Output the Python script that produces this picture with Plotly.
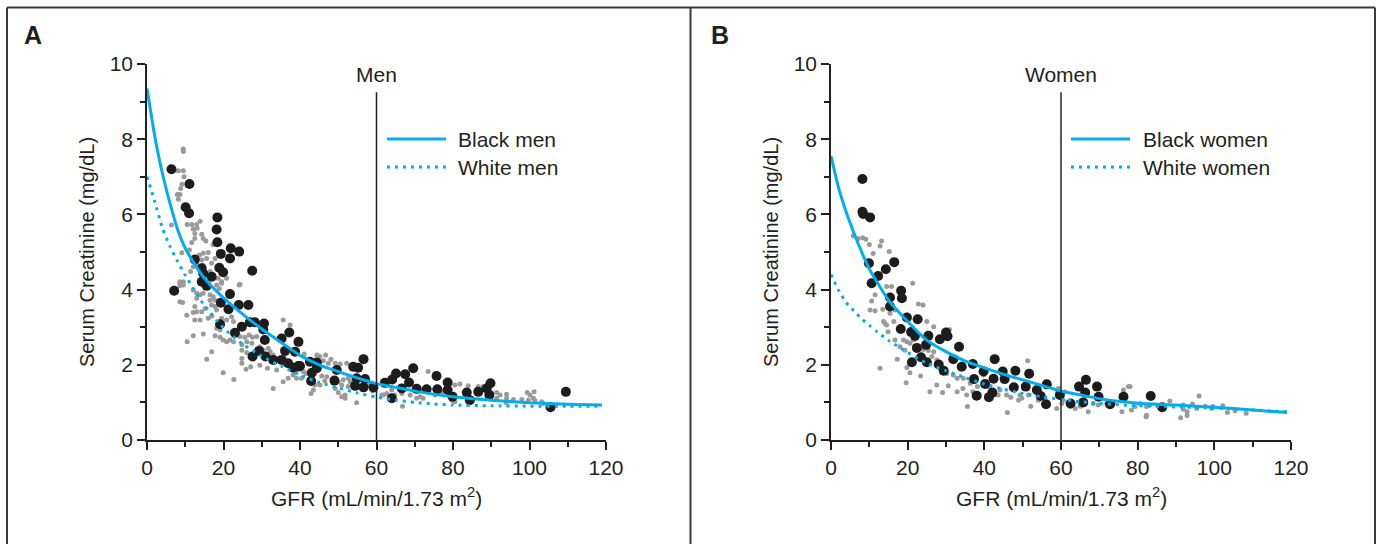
import plotly.graph_objects as go

W, H = 1379, 544

# ---------------- data ----------------
curve_x = [0, 2, 4, 6, 8, 10, 12, 15, 20, 25, 30, 35, 40, 45, 50, 55, 60, 65, 70, 75, 80, 90, 100, 110, 119]
men_black_curve = [9.35, 8.1, 7.1, 6.3, 5.6, 5.1, 4.75, 4.3, 3.78, 3.35, 2.95, 2.6, 2.25, 2.0, 1.82, 1.65, 1.5,
                   1.4, 1.3, 1.22, 1.15, 1.06, 0.99, 0.95, 0.93]
men_white_curve = [7.0, 6.35, 5.65, 5.15, 4.75, 4.38, 4.05, 3.58, 2.98, 2.55, 2.23, 1.97, 1.73, 1.53, 1.39, 1.25,
                   1.14, 1.06, 1.0, 0.96, 0.93, 0.91, 0.9, 0.9, 0.9]
women_black_curve = [7.55, 6.7, 6.05, 5.5, 5.0, 4.55, 4.2, 3.72, 3.15, 2.65, 2.35, 2.1, 1.92, 1.75, 1.6, 1.45, 1.3,
                     1.2, 1.1, 1.03, 0.98, 0.93, 0.87, 0.8, 0.73]
women_white_curve = [4.4, 3.98, 3.65, 3.43, 3.22, 3.05, 2.88, 2.65, 2.33, 2.04, 1.84, 1.66, 1.49, 1.35, 1.24, 1.15,
                     1.08, 1.02, 0.97, 0.94, 0.91, 0.88, 0.85, 0.8, 0.75]

men_gray_x = [9.5, 9.5, 8.2, 9.5, 9.7, 9.1, 8.8, 7.9, 8.6, 8.2, 6.4, 10.5, 11.7, 13.0, 13.9, 12.1, 13.1, 12.5, 14.3,
              14.7, 15.4, 12.5, 11.7, 17.3, 16.0, 14.7, 13.7, 11.1, 9.1, 14.3, 15.6, 14.6, 13.0, 11.4, 12.1, 16.9,
              17.8, 16.5, 17.3, 18.6, 19.5, 8.6, 9.5, 24.3, 20.8,
              8.6, 9.5, 8.6, 12.1, 13.0, 13.9, 14.7, 16.5, 17.3, 16.5, 17.8, 16.9, 18.2, 19.5, 18.9, 24.1, 9.3, 13.0,
              12.5, 13.0, 12.1, 10.4, 14.3, 15.2, 17.8, 18.2, 12.5, 13.9, 16.0, 16.9, 19.5, 20.8, 22.1, 22.6, 18.2,
              19.1, 12.1, 14.7, 17.8, 19.1, 19.9, 10.5, 20.8, 21.7, 22.6, 24.3, 25.6, 26.7, 27.6, 28.7, 24.8, 26.1,
              27.4, 16.9, 24.8, 26.1, 15.6, 24.8, 24.8, 29.5, 30.4, 31.7, 32.2, 33.0, 29.5, 27.1, 25.9, 31.5, 33.9,
              35.6, 37.4, 19.9, 22.7, 35.6, 36.9, 38.2, 39.1, 33.0, 36.1, 37.8,
              41.1, 44.4, 45.2, 46.7, 46.1, 47.4, 48.1, 49.2, 50.5, 52.2, 40.9, 41.7, 40.4, 45.7, 47.0, 46.5, 45.2,
              43.9, 43.5, 42.9, 50.0, 51.3, 52.6, 50.9, 52.6, 53.1, 49.2, 50.0, 50.9, 51.8, 54.8, 61.4, 62.7, 64.0,
              64.8, 66.8, 66.6, 68.8, 70.5, 71.4, 72.2, 73.5, 75.3, 77.0, 79.2, 80.3, 79.7, 38.7, 39.6,
              80.5, 81.8, 84.0, 79.2, 80.5, 86.6, 87.9, 91.4, 92.3, 91.4, 94.0, 94.0, 93.9, 95.8, 98.0, 99.4, 100.1,
              101.2, 101.0, 99.7, 101.4, 103.2, 103.6, 8.6, 51.8, 61.8, 56.0, 58.0, 59.0]
men_gray_y = [7.74, 7.67, 7.16, 7.16, 7.0, 6.8, 6.69, 6.53, 6.53, 6.40, 5.72, 5.73, 5.73, 5.73, 5.82, 5.61, 5.63,
              5.49, 5.47, 5.36, 5.29, 5.36, 5.25, 5.19, 4.99, 4.97, 4.92, 5.05, 4.98, 4.79, 4.83, 4.65, 4.70, 4.48,
              4.61, 4.70, 4.83, 4.48, 4.34, 4.30, 4.21, 4.21, 4.21, 4.14, 4.30,
              4.17, 4.12, 4.10, 3.99, 3.90, 3.86, 3.90, 3.86, 3.81, 3.72, 3.72, 3.59, 4.12, 4.17, 4.03, 4.12, 3.66,
              3.77, 3.55, 3.41, 3.39, 3.32, 3.41, 3.50, 3.55, 3.46, 3.19, 3.19, 3.24, 3.30, 3.24, 3.19, 3.28, 3.15,
              2.97, 2.93, 2.77, 2.82, 2.77, 2.73, 2.66, 2.61, 2.61, 2.66, 2.61, 2.75, 2.73, 2.79, 2.73, 2.75, 2.53,
              2.61, 2.57, 2.35, 2.39, 2.32, 2.15, 2.17, 2.04, 2.48, 2.39, 2.44, 2.35, 2.26, 1.99, 1.95, 1.88, 1.91,
              1.86, 3.19, 3.06, 1.79, 1.61, 1.55, 1.64, 1.73, 1.64, 1.37, 2.04, 1.99,
              2.29, 2.26, 2.22, 2.26, 2.11, 2.04, 2.15, 2.04, 2.02, 2.04, 1.82, 1.77, 1.64, 1.70, 1.68, 1.57, 1.46,
              1.46, 1.33, 1.24, 1.55, 1.60, 1.64, 1.46, 1.42, 1.55, 1.37, 1.26, 1.15, 1.11, 0.99, 1.20, 1.24, 1.33,
              1.20, 0.90, 1.24, 1.20, 1.11, 1.15, 1.11, 1.82, 1.20, 1.28, 1.20, 1.21, 1.06, 1.99, 1.86,
              1.46, 1.49, 1.44, 1.15, 1.02, 1.42, 1.42, 1.26, 1.20, 1.11, 1.22, 1.11, 0.99, 1.08, 1.08, 1.26, 1.20,
              1.28, 1.11, 1.06, 1.06, 1.02, 0.97, 3.68, 1.20, 1.20, 1.60, 1.45, 1.30]

men_black_x = [6.4, 11.1, 10.1, 11.0, 18.4, 18.2, 18.4, 19.3, 21.9, 24.1, 21.7, 12.5, 27.5, 14.3, 18.9, 19.9, 14.7,
               16.9, 14.3, 7.1, 15.6, 21.7, 19.3, 24.0, 26.5, 21.3, 19.1, 24.8, 26.9, 28.2, 30.6, 30.4, 23.0, 37.2,
               35.2, 30.8, 39.6, 29.3, 27.6, 36.1, 31.0, 33.0, 35.2, 36.9, 38.3, 39.6,
               38.7, 42.6, 44.4, 40.0, 43.1, 44.4, 49.6, 42.9, 49.0, 56.6, 53.9, 55.2, 54.8, 57.0, 54.4, 56.6, 59.2,
               62.2, 64.0, 64.1, 65.1, 67.5, 69.6, 68.5, 66.6, 70.5, 73.1, 75.7, 75.9, 78.6, 78.6, 79.9,
               83.6, 84.4, 86.6, 88.8, 89.8, 89.5, 105.5, 109.5]
men_black_y = [7.2, 6.81, 6.19, 6.03, 5.92, 5.60, 5.26, 4.95, 5.10, 5.01, 4.83, 4.80, 4.50, 4.57, 4.58, 4.46, 4.43,
               4.34, 4.21, 3.97, 4.10, 3.88, 3.65, 3.59, 3.59, 3.48, 3.08, 3.01, 3.13, 3.13, 3.10, 2.94, 2.85, 2.86,
               2.70, 2.66, 2.61, 2.37, 2.22, 2.37, 2.22, 2.13, 2.13, 2.04, 1.92, 1.97,
               2.35, 2.08, 2.06, 1.97, 1.79, 1.91, 1.86, 1.57, 1.58, 2.15, 1.95, 1.92, 1.64, 1.62, 1.44, 1.40, 1.40,
               1.52, 1.11, 1.61, 1.77, 1.75, 1.91, 1.53, 1.37, 1.36, 1.35, 1.70, 1.35, 1.53, 1.33, 1.15,
               1.26, 1.06, 1.28, 1.37, 1.51, 1.20, 0.87, 1.28]

women_gray_x = [5.8, 7.1, 8.3, 9.1, 10.0, 11.0, 13.2, 12.8, 15.2,
                21.3, 10.6, 11.5, 10.2, 11.5, 14.5, 15.8, 13.5, 13.7, 14.5, 14.1, 15.4, 16.7, 12.8, 14.9, 16.4,
                17.3, 16.7, 18.0, 18.9, 19.3, 19.8, 20.6, 21.5, 19.8, 20.6, 19.6, 23.4, 25.0, 26.8, 22.8, 24.0,
                24.1, 25.4, 26.8, 26.3, 27.6, 25.8, 27.6, 29.1, 30.6, 30.9, 30.2, 31.9, 32.9, 32.9, 34.4, 35.4,
                37.0, 35.6, 34.5, 36.3, 38.2, 39.8, 41.1, 43.6, 44.1, 45.8, 46.9, 46.0, 49.3, 49.8, 51.5, 48.9,
                51.3, 52.1, 54.1, 55.4, 58.9, 60.2, 60.6, 62.4, 63.7, 65.0, 59.3, 61.0, 67.1, 68.4, 69.7, 71.9,
                73.7, 75.9, 76.3, 77.6, 79.3, 80.6, 82.3, 83.2, 78.0, 78.4, 82.2, 82.3, 88.4, 91.2, 91.9, 91.9,
                92.9, 92.9, 94.3, 96.0, 95.4, 97.6, 99.3, 99.6, 102.2, 103.4, 105.4, 108.3]
women_gray_y = [5.43, 5.36, 5.38, 5.34, 5.20, 4.96, 5.29, 5.16, 5.01,
                4.17, 3.70, 3.86, 3.46, 3.44, 4.08, 4.08, 3.48, 3.15, 3.06, 3.10, 3.37, 3.46, 1.91, 2.88, 3.15,
                2.15, 2.66, 2.48, 2.66, 2.39, 2.61, 2.57, 2.66, 1.93, 1.79, 1.52, 1.70, 3.15, 3.01, 3.62, 3.59,
                2.41, 2.38, 2.35, 2.22, 2.13, 1.28, 1.46, 1.26, 1.44, 2.94, 1.77, 1.73, 1.64, 1.28, 1.37, 1.20,
                1.28, 0.89, 1.64, 1.51, 1.42, 1.73, 1.42, 1.20, 1.33, 1.20, 1.14, 0.73, 1.20, 1.11, 1.20, 1.06,
                2.11, 0.90, 1.06, 1.15, 0.84, 0.97, 1.06, 0.89, 0.84, 0.90, 1.37, 1.28, 0.75, 0.97, 0.93, 0.97,
                0.97, 0.75, 1.33, 1.42, 0.89, 0.97, 0.66, 0.93, 1.42, 0.80, 0.62, 0.89, 1.04, 0.59, 0.93, 0.82,
                0.75, 0.65, 0.96, 1.17, 0.84, 0.90, 0.84, 0.89, 0.91, 0.73, 0.78, 0.71]

women_black_x = [8.2, 8.2, 8.4, 10.2, 9.9, 12.3, 14.3, 16.5, 10.6, 15.4, 15.4, 18.3, 18.5, 19.8, 18.2, 22.6, 20.9,
                 21.9, 25.4, 22.4, 24.8, 30.0, 30.4, 28.4, 23.5, 21.1, 25.0, 28.1, 29.4, 33.4, 31.9, 34.1, 37.0,
                 39.8, 37.3, 40.2, 38.0, 41.2, 42.1, 42.4, 42.7, 44.8, 45.3, 47.7, 48.1, 50.8, 51.7, 53.7, 54.7,
                 56.1, 56.3, 59.7, 62.5, 64.7, 66.5, 66.3, 65.8, 69.4, 69.8, 72.8, 76.3, 83.4, 86.4]
women_black_y = [6.94, 6.07, 6.01, 5.92, 4.70, 4.36, 4.54, 4.73, 4.17, 3.79, 3.55, 3.97, 3.77, 3.26, 2.95, 3.21,
                 2.87, 2.77, 2.77, 2.45, 2.53, 2.86, 2.76, 2.68, 2.20, 2.07, 2.07, 2.01, 1.84, 2.48, 2.15, 1.95,
                 2.02, 1.82, 1.62, 1.49, 1.18, 1.14, 1.26, 1.63, 2.15, 1.82, 1.62, 1.40, 1.84, 1.42, 1.76, 1.33,
                 1.17, 0.95, 1.48, 1.20, 0.97, 1.42, 1.60, 1.26, 1.00, 1.42, 1.15, 0.95, 1.15, 1.17, 0.87]

x_ticks = [0, 20, 40, 60, 80, 100, 120]
y_ticks = [0, 2, 4, 6, 8, 10]
panel_labels = ["A", "B"]
group_labels = ["Men", "Women"]
legend_labels = [["Black men", "White men"], ["Black women", "White women"]]
x_title = "GFR (mL/min/1.73 m<sup>2</sup>)"
y_title = "Serum Creatinine (mg/dL)"

# ---------------- styling ----------------
FONT = "Liberation Sans, Arial, Helvetica, sans-serif"
FS = 21
INK = "#231f20"
CYAN = "#00aeef"
GRAY = "#9a9a9a"
DOT = "3px,5px"

# pixel layout helpers (margins are zero, paper == full figure)
def px(xp):
    return xp / W

def py(yp):
    return 1 - yp / H

panels = [
    dict(x0=147, x1=606, gx=men_gray_x, gy=men_gray_y, bx=men_black_x, by=men_black_y,
         cb=men_black_curve, cw=men_white_curve, lab_x=33, leg_x0=387, leg_x1=446, leg_tx=456),
    dict(x0=831, x1=1291, gx=women_gray_x, gy=women_gray_y, bx=women_black_x, by=women_black_y,
         cb=women_black_curve, cw=women_white_curve, lab_x=720, leg_x0=1071, leg_x1=1130, leg_tx=1141),
]
Y_TOP, Y_BOT = 64, 440

fig = go.Figure()
shapes = []
annotations = []
layout_axes = {}

for i, p in enumerate(panels):
    sfx = "" if i == 0 else str(i + 1)
    xa, ya = "x" + sfx, "y" + sfx
    fig.add_trace(go.Scatter(x=p["gx"], y=p["gy"], mode="markers", xaxis=xa, yaxis=ya,
                             marker=dict(color=GRAY, size=5, line=dict(width=0)), showlegend=False,
                             cliponaxis=False))
    fig.add_trace(go.Scatter(x=p["bx"], y=p["by"], mode="markers", xaxis=xa, yaxis=ya,
                             marker=dict(color="#1c1c1c", size=10, line=dict(width=0)), showlegend=False,
                             cliponaxis=False))
    fig.add_trace(go.Scatter(x=curve_x, y=p["cw"], mode="lines", xaxis=xa, yaxis=ya,
                             line=dict(color=CYAN, width=3, dash=DOT, shape="spline", smoothing=0.6),
                             showlegend=False))
    fig.add_trace(go.Scatter(x=curve_x, y=p["cb"], mode="lines", xaxis=xa, yaxis=ya,
                             line=dict(color=CYAN, width=3, shape="spline", smoothing=0.6),
                             showlegend=False))

    axis_common = dict(showgrid=False, zeroline=False, showline=True, linecolor=INK, linewidth=1.5,
                       ticks="outside", ticklen=8, tickwidth=1.5, tickcolor=INK, automargin=False,
                       tickfont=dict(family=FONT, size=FS, color=INK), fixedrange=True)
    layout_axes["xaxis" + sfx] = dict(axis_common, domain=[px(p["x0"]), px(p["x1"])], range=[0, 120],
                                      tickvals=x_ticks, anchor=ya,
                                      minor=dict(dtick=10, tick0=0, ticks="outside", ticklen=5,
                                                 tickwidth=1.5, tickcolor=INK))
    layout_axes["yaxis" + sfx] = dict(axis_common, domain=[py(Y_BOT), py(Y_TOP)], range=[0, 10],
                                      tickvals=y_ticks, anchor=xa,
                                      minor=dict(dtick=1, tick0=0, ticks="outside", ticklen=5,
                                                 tickwidth=1.5, tickcolor=INK))

    # vertical reference line at GFR 60
    shapes.append(dict(type="line", xref=xa, yref=ya, x0=60, x1=60, y0=0, y1=9.25,
                       line=dict(color=INK, width=1.5)))
    annotations.append(dict(xref=xa, yref=ya, x=60, y=9.71, text=group_labels[i], showarrow=False,
                            xanchor="center", yanchor="middle",
                            font=dict(family=FONT, size=FS, color=INK)))
    # panel letter
    annotations.append(dict(xref="paper", yref="paper", x=px(p["lab_x"]), y=py(35), text="<b>%s</b>" % panel_labels[i],
                            showarrow=False, xanchor="center", yanchor="middle",
                            font=dict(family=FONT, size=25, color=INK)))
    # axis titles
    annotations.append(dict(xref=xa, yref="paper", x=60, y=py(497), text=x_title, showarrow=False,
                            xanchor="center", yanchor="middle",
                            font=dict(family=FONT, size=FS, color=INK)))
    annotations.append(dict(xref="paper", yref="paper", x=px(p["x0"] - 60), y=py((Y_TOP + Y_BOT) / 2),
                            text=y_title, textangle=-90, showarrow=False, xanchor="center", yanchor="middle",
                            font=dict(family=FONT, size=20, color=INK)))
    # legend (drawn)
    for j, (yy, dash) in enumerate([(139, None), (167, DOT)]):
        ln = dict(color=CYAN, width=3)
        if dash:
            ln["dash"] = dash
        shapes.append(dict(type="line", xref="paper", yref="paper", x0=px(p["leg_x0"]), x1=px(p["leg_x1"]),
                           y0=py(yy), y1=py(yy), line=ln))
        annotations.append(dict(xref="paper", yref="paper", x=px(p["leg_tx"]), y=py(yy),
                                text=legend_labels[i][j], showarrow=False, xanchor="left", yanchor="middle",
                                font=dict(family=FONT, size=FS, color=INK)))

# panel frames
frame = dict(color="#3a3a3a", width=2)
shapes.append(dict(type="line", xref="paper", yref="paper", x0=px(7), x1=px(1375), y0=py(7.5), y1=py(7.5), line=frame))
for xx in [7, 690.5, 1375]:
    shapes.append(dict(type="line", xref="paper", yref="paper", x0=px(xx), x1=px(xx), y0=-0.1, y1=py(7.5),
                       line=frame))

fig.update_layout(
    template="none",
    width=W, height=H, autosize=False,
    margin=dict(l=0, r=0, t=0, b=0, pad=0, autoexpand=False),
    paper_bgcolor="white", plot_bgcolor="white",
    font=dict(family=FONT, size=FS, color=INK),
    shapes=shapes, annotations=annotations, showlegend=False,
    **layout_axes,
)

# the page body has a default 8px margin; remove it so the figure sits at the window origin
fig.write_html("out.html", config={"displayModeBar": False},
               post_script="document.body.style.margin='0px';document.body.style.overflow='hidden';")
